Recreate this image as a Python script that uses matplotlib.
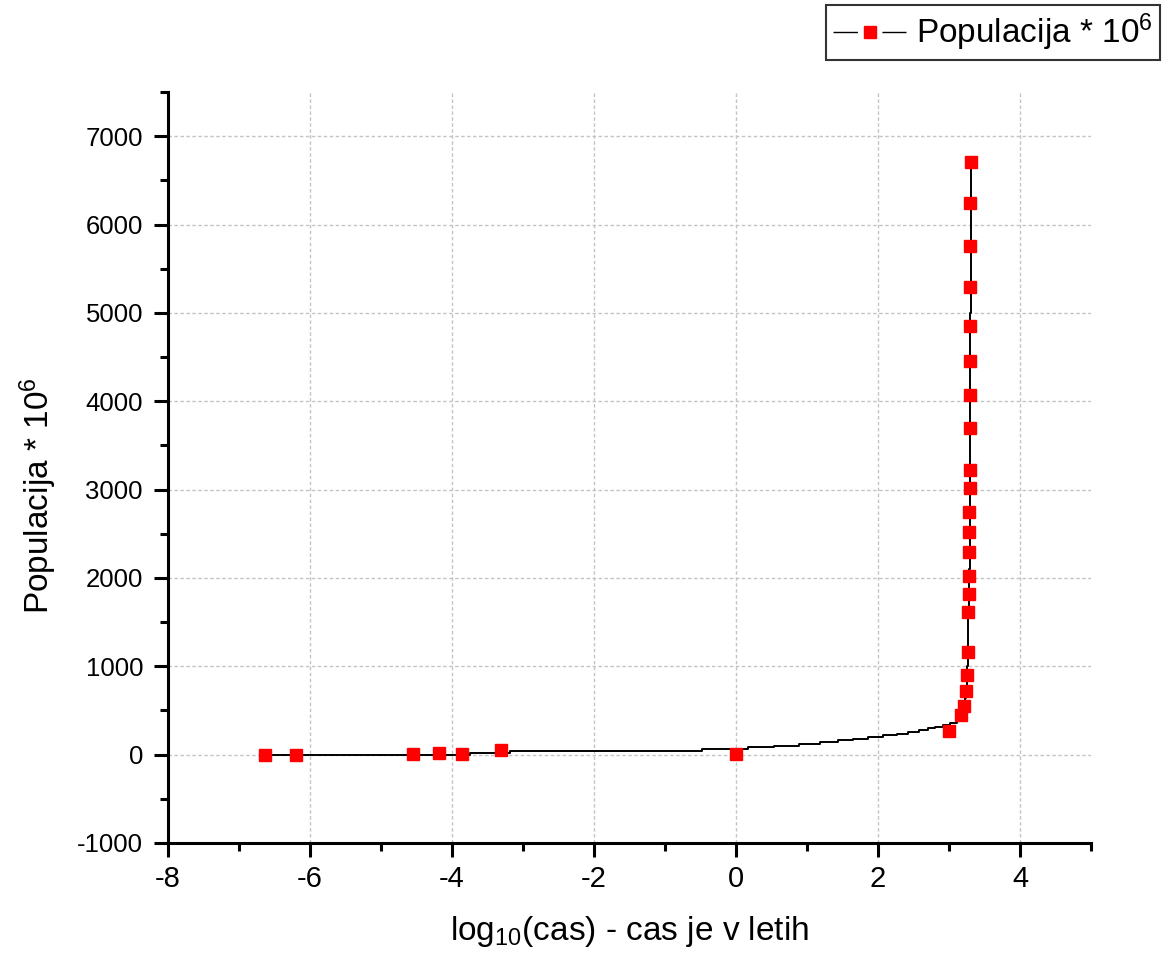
import matplotlib
matplotlib.use("Agg")
import matplotlib.pyplot as plt
from matplotlib.ticker import MultipleLocator

plt.rcParams["font.family"] = ["Liberation Sans", "DejaVu Sans"]
plt.rcParams["mathtext.fontset"] = "custom"
plt.rcParams["mathtext.rm"] = "Liberation Sans"
plt.rcParams["mathtext.it"] = "Liberation Sans:italic"
plt.rcParams["mathtext.bf"] = "Liberation Sans:bold"
plt.rcParams["axes.unicode_minus"] = False

# measured points (log10 of years, population in millions)
marker_x = [-6.64, -6.20, -4.55, -4.18, -3.86, -3.31, 0.0, 3.0, 3.17, 3.216,
            3.239, 3.249, 3.268, 3.272, 3.276, 3.279, 3.283, 3.286, 3.288,
            3.290, 3.292, 3.294, 3.295, 3.296, 3.298, 3.299, 3.300, 3.301, 3.303]
marker_y = [0, 0, 2, 15, 3, 48, 8, 272, 450, 555,
            725, 906, 1163, 1616, 1816, 2027, 2296, 2517, 2751,
            3021, 3226, 3698, 4072, 4451, 4853, 5288, 5760, 6243, 6710]

# stepped curve
line_x = [-6.64, -3.75, -3.18, -0.474, 0.174, 0.540, 0.892, 1.183, 1.432, 1.643,
          1.854, 2.075, 2.263, 2.418, 2.582, 2.709, 2.803, 2.920, 3.014, 3.108,
          3.14, 3.17, 3.19, 3.21, 3.225, 3.24, 3.25, 3.26, 3.268, 3.272,
          3.278, 3.281, 3.292, 3.296, 3.300, 3.303]
line_y = [0, 20, 40, 65, 84, 103, 123, 142, 161, 180,
          199, 218, 238, 257, 280, 299, 314, 333, 356, 391,
          420, 460, 510, 570, 640, 730, 850, 1000, 1200, 1600,
          2000, 2100, 2200, 3000, 5000, 6740]

fig = plt.figure(figsize=(11.71, 9.6), dpi=100)
ax = fig.add_axes([168 / 1171, 1 - 843 / 960, 923 / 1171, 751 / 960])

ax.plot(line_x, line_y, color="black", lw=1.4, drawstyle="steps-post", zorder=2)
ax.plot(marker_x, marker_y, ls="none", marker="s", ms=8, color="#ff0000",
        mec="#ff0000", zorder=3)

ax.set_xlim(-8, 5)
ax.set_ylim(-1000, 7500)
ax.xaxis.set_major_locator(MultipleLocator(2))
ax.xaxis.set_minor_locator(MultipleLocator(1))
ax.yaxis.set_major_locator(MultipleLocator(1000))
ax.yaxis.set_minor_locator(MultipleLocator(500))

ax.grid(True, which="major", color="#c4c4c4", lw=1, ls=(0, (2.5, 1.8)))
ax.set_axisbelow(True)

for s in ["top", "right"]:
    ax.spines[s].set_visible(False)
for s in ["left", "bottom"]:
    ax.spines[s].set_linewidth(2.2)

ax.tick_params(which="major", direction="out", length=10, width=2.2)
ax.tick_params(which="minor", direction="out", length=5.5, width=2.2)
ax.tick_params(axis="y", labelsize=18.5, pad=8)
ax.tick_params(axis="x", labelsize=21, pad=6)

ax.set_xlabel(r"log$_{10}$(cas) - cas je v letih", fontsize=24)
ax.set_ylabel(r"Populacija * 10$^6$", fontsize=24)
ax.xaxis.set_label_coords(0.5, -0.094)
ax.yaxis.set_label_coords(-0.118, 0.462)

handle, = ax.plot([], [], color="black", lw=1, ls=(0, (17.6, 17.6)), marker="s",
                  ms=8, mfc="#ff0000", mec="#ff0000")
fig.legend([handle], [r"Populacija * 10$^6$"], loc="upper right",
           bbox_to_anchor=(1160 / 1171, 1 - 5 / 960), borderaxespad=0,
           fontsize=24, fancybox=False, edgecolor="#333333", framealpha=1,
           handlelength=2.2, handletextpad=0.3, borderpad=0.2)
fig.legends[0].get_frame().set_linewidth(1.5)

fig.savefig("out.png", dpi=100)
